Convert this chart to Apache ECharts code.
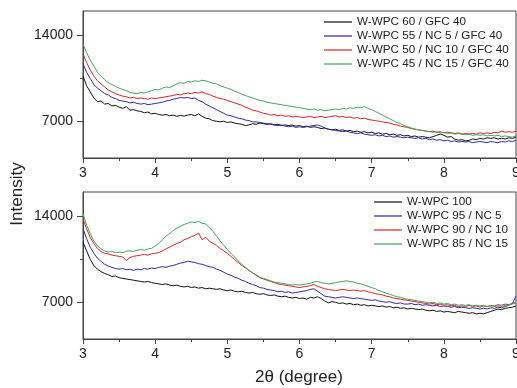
<!DOCTYPE html>
<html>
<head>
<meta charset="utf-8">
<script src="https://cdn.jsdelivr.net/npm/echarts@6/dist/echarts.min.js"></script>
<style>
html,body{margin:0;padding:0;background:#fff;}
#c{width:517px;height:388px;}
</style>
</head>
<body>
<div id="c"></div>
<script>
// 2-theta sampling positions (degree)
const xs = [3.00,3.05,3.10,3.15,3.20,3.25,3.30,3.35,3.40,3.45,
3.50,3.55,3.60,3.65,3.70,3.75,3.80,3.85,3.90,3.95,
4.00,4.05,4.10,4.15,4.20,4.25,4.30,4.35,4.40,4.45,
4.50,4.55,4.60,4.65,4.70,4.75,4.80,4.85,4.90,4.95,
5.00,5.05,5.10,5.15,5.20,5.25,5.30,5.35,5.40,5.45,
5.50,5.55,5.60,5.65,5.70,5.75,5.80,5.85,5.90,5.95,
6.00,6.05,6.10,6.15,6.20,6.25,6.30,6.35,6.40,6.45,
6.50,6.55,6.60,6.65,6.70,6.75,6.80,6.85,6.90,6.95,
7.00,7.05,7.10,7.15,7.20,7.25,7.30,7.35,7.40,7.45,
7.50,7.55,7.60,7.65,7.70,7.75,7.80,7.85,7.90,7.95,
8.00,8.05,8.10,8.15,8.20,8.25,8.30,8.35,8.40,8.45,
8.50,8.55,8.60,8.65,8.70,8.75,8.80,8.85,8.90,8.95,
9.00];

// Top panel
const topNames = ['W-WPC 60 / GFC 40','W-WPC 55 / NC 5 / GFC 40','W-WPC 50 / NC 10 / GFC 40','W-WPC 45 / NC 15 / GFC 40'];
const topBlack = [10700,9900,9400,8900,8600,8650,8400,8450,8250,8300,
8150,8050,8200,7900,7950,7850,7800,7700,7750,7600,
7650,7550,7500,7550,7450,7500,7400,7480,7420,7500,
7550,7450,7600,7400,7250,7200,7050,7000,6950,7000,
6900,6950,6850,6800,6750,6650,6700,6800,6750,6850,
6800,6750,6800,6700,6750,6650,6700,6650,6700,6600,
6650,6550,6600,6500,6550,6500,6400,6450,6350,6300,
6350,6250,6300,6200,6250,6150,6200,6100,6150,6050,
6100,6000,6050,5950,6000,5900,5950,5850,5900,5800,
5850,5750,5800,5700,5750,5700,5650,5750,5850,5950,
5850,5700,5750,5550,5450,5500,5400,5450,5550,5500,
5600,5550,5650,5600,5650,5550,5600,5550,5650,5600,
5700];
const topBlue = [11700,11000,10500,10000,9700,9500,9250,9150,8950,8850,
8700,8650,8600,8500,8550,8450,8400,8450,8350,8400,
8450,8500,8550,8650,8700,8800,8850,8950,8900,8950,
8850,8900,8700,8600,8400,8250,8100,7950,7800,7650,
7500,7450,7350,7250,7200,7100,7050,6950,6950,6900,
6850,6800,6750,6700,6650,6700,6600,6550,6600,6500,
6550,6500,6550,6600,6650,6700,6600,6450,6350,6300,
6250,6200,6150,6200,6100,6050,6000,6050,5950,5900,
5850,5900,5800,5850,5750,5800,5700,5750,5700,5650,
5700,5650,5600,5650,5550,5600,5500,5550,5450,5500,
5400,5450,5350,5400,5300,5350,5300,5350,5250,5300,
5350,5300,5250,5350,5300,5250,5350,5300,5400,5350,
5450];
const topRed = [12500,11800,11200,10700,10300,10050,9800,9550,9400,9250,
9150,9050,9000,8900,8950,8850,8900,8850,8800,8900,
8850,8900,8950,9000,9050,9100,9200,9150,9250,9300,
9250,9350,9300,9400,9250,9200,9050,8950,8850,8800,
8700,8600,8500,8400,8300,8150,8050,7900,7850,7750,
7650,7600,7500,7550,7450,7500,7400,7450,7350,7400,
7350,7300,7350,7400,7300,7350,7400,7300,7350,7400,
7450,7350,7400,7300,7350,7250,7300,7200,7250,7150,
7100,7050,7000,6950,6900,6850,6750,6700,6600,6550,
6500,6400,6350,6300,6250,6200,6150,6200,6100,6150,
6050,6100,6050,6000,6050,5950,6000,5950,6000,5950,
6050,6000,6050,6000,6100,6050,6200,6100,6150,6100,
6200];
const topGreen = [13300,12600,12000,11500,11000,10700,10400,10150,10000,9850,
9700,9600,9500,9350,9300,9250,9350,9300,9400,9500,
9600,9550,9700,9800,9750,9900,10050,10150,10100,10250,
10200,10300,10250,10350,10300,10200,10100,10050,9900,9800,
9700,9600,9450,9350,9200,9100,9000,8900,8800,8700,
8650,8550,8500,8450,8400,8350,8300,8250,8200,8150,
8100,8050,8000,7950,8000,7900,7950,7850,7900,7950,
8000,7950,8050,8000,8100,8050,8150,8100,8200,8050,
7950,7800,7650,7500,7350,7200,7050,6900,6800,6650,
6550,6450,6350,6300,6250,6200,6150,6100,6150,6050,
6100,6000,6050,5950,6000,5950,5900,5950,5850,5900,
5850,5900,5800,5850,5800,5850,5750,5800,5750,5700,
5800];

// Bottom panel
const botNames = ['W-WPC 100','W-WPC 95 / NC 5','W-WPC 90 / NC 10','W-WPC 85 / NC 15'];
const botBlack = [11900,11200,10500,10000,9700,9500,9350,9250,9100,9150,
9000,8950,8900,8850,8800,8750,8700,8650,8700,8600,
8550,8500,8450,8500,8400,8350,8400,8300,8250,8300,
8200,8250,8150,8200,8100,8150,8100,8050,8100,8000,
7950,8000,7900,7850,7900,7800,7750,7800,7700,7650,
7700,7600,7550,7600,7500,7450,7500,7400,7350,7400,
7300,7350,7250,7400,7350,7450,7300,7100,6950,7050,
7000,6900,6950,6850,6900,6800,6850,6750,6800,6700,
6750,6700,6650,6700,6600,6650,6550,6600,6500,6550,
6450,6500,6450,6400,6450,6350,6300,6350,6250,6300,
6200,6250,6200,6150,6250,6200,6150,6100,6150,6050,
6100,6050,6150,6250,6350,6450,6400,6500,6550,6600,
6700];
const botBlue = [13000,12200,11500,11000,10600,10350,10100,9950,9850,9750,
9700,9750,9650,9700,9600,9700,9650,9750,9700,9800,
9750,9850,9900,9850,9950,10000,10100,10200,10250,10350,
10300,10250,10150,10100,10000,9900,9850,9700,9600,9450,
9300,9200,9050,8950,8800,8700,8550,8450,8350,8200,
8150,8050,8000,7950,7850,7900,7800,7850,7750,7800,
7850,7900,7950,8050,8100,7900,7700,7500,7450,7400,
7350,7400,7450,7400,7350,7300,7350,7300,7250,7200,
7150,7200,7100,7050,7000,7050,6950,6900,6950,6850,
6850,6900,6800,6850,6750,6800,6750,6700,6750,6650,
6700,6650,6600,6650,6550,6600,6550,6500,6550,6500,
6450,6500,6450,6550,6500,6600,6550,6650,6750,6900,
7500];
const botRed = [13800,13000,12300,11800,11400,11150,11000,10950,10850,10800,
10750,10700,10400,10650,10750,10800,10850,10900,10850,10950,
11000,11050,11200,11350,11500,11650,11800,11900,12100,12200,
12350,12450,12650,12100,12300,12000,11800,11650,11400,11200,
11000,10750,10500,10250,10000,9800,9600,9400,9200,9000,
8900,8800,8700,8600,8500,8450,8400,8350,8300,8250,
8200,8250,8300,8350,8450,8300,8200,8100,8050,8000,
7950,8000,8050,8000,7950,8000,7950,7900,7950,7850,
7800,7700,7650,7600,7500,7450,7350,7300,7250,7200,
7150,7100,7050,7000,6950,6900,6850,6900,6800,6850,
6750,6800,6700,6750,6650,6700,6650,6750,6650,6700,
6600,6700,6650,6750,6700,6800,6750,6850,6800,6900,
7000];
const botGreen = [14200,13300,12600,12000,11600,11350,11200,11100,11150,11050,
11100,11050,11150,11200,11150,11250,11300,11250,11350,11400,
11600,11800,12100,12400,12600,12850,13050,13200,13350,13450,
13550,13500,13600,13450,13400,13100,12800,12400,12000,11650,
11300,11000,10700,10400,10100,9850,9600,9400,9250,9050,
8950,8850,8750,8650,8600,8550,8500,8450,8400,8450,
8400,8450,8500,8550,8650,8700,8600,8550,8500,8550,
8600,8650,8700,8750,8700,8650,8550,8500,8400,8300,
8200,8100,7950,7850,7750,7650,7550,7450,7400,7300,
7250,7200,7150,7100,7050,7000,6950,7000,6900,6950,
6850,6900,6800,6850,6750,6800,6750,6800,6700,6750,
6700,6750,6650,6700,6650,6700,6650,6750,6800,6850,
6950];

const yTickValues = [7000, 14000];
const yMinorValues = [10500];
const xTickLabels = [3,4,5,6,7,8,9];

const colors = ['#111111','#2a2aa6','#dd2222','#3fa65a'];
const FONT = 'Liberation Sans, Arial, Helvetica, sans-serif';
const AX = '#444444';

function pairs(vals){ return vals.map((v,i)=>[xs[i], v]); }

function xAxisCfg(gi){
  return {
    type:'value', gridIndex:gi, min:3, max:9, interval:1,
    axisLine:{show:true, lineStyle:{color:AX, width:1}},
    axisTick:{show:true, inside:false, length:5, lineStyle:{color:AX}},
    minorTick:{show:true, splitNumber:2, length:3, lineStyle:{color:AX}},
    splitLine:{show:false},
    axisLabel:{show:true, margin:8, fontSize:14, color:'#222', fontFamily:FONT,
      formatter:(v)=> xTickLabels.indexOf(v)>=0 ? String(v) : ''}
  };
}
function yMainCfg(gi){
  return {
    type:'value', gridIndex:gi, min:4000, max:16000,
    axisLine:{show:true, lineStyle:{color:AX, width:1}},
    axisTick:{show:true, inside:false, length:6, customValues:yTickValues, lineStyle:{color:AX}},
    splitLine:{show:false},
    axisLabel:{show:true, margin:10, fontSize:14, color:'#222', fontFamily:FONT, customValues:yTickValues,
      formatter:(v)=> String(Math.round(v))}
  };
}
function yMinorCfg(gi){
  return {
    type:'value', gridIndex:gi, min:4000, max:16000, position:'left',
    axisLine:{show:false},
    axisTick:{show:true, inside:false, length:3, customValues:yMinorValues, lineStyle:{color:AX}},
    splitLine:{show:false},
    axisLabel:{show:false}
  };
}
function lineSeries(name, vals, ci, xi, yi){
  return {
    name:name, type:'line', data:pairs(vals), xAxisIndex:xi, yAxisIndex:yi,
    symbol:'none', showSymbol:false, smooth:false,
    lineStyle:{width:1, color:colors[ci]}, itemStyle:{color:colors[ci]},
    emphasis:{disabled:true}, animation:false
  };
}
function legendCfg(names, left, top){
  return {
    data:names.map(n=>({name:n, icon:'rect'})), orient:'vertical', left:left, top:top,
    itemWidth:28, itemHeight:1.2, itemGap:0, padding:0, selectedMode:false,
    textStyle:{fontSize:11.7, lineHeight:14, height:14, color:'#222', fontFamily:FONT}
  };
}

const chart = echarts.init(document.getElementById('c'), null, {renderer:'canvas'});
chart.setOption({
  animation:false,
  backgroundColor:'#ffffff',
  textStyle:{fontFamily:FONT},
  grid:[
    {left:83, right:1, top:11, height:147, show:true, borderColor:AX, borderWidth:1, backgroundColor:'transparent', containLabel:false, outerBoundsMode:'none'},
    {left:83, right:1, top:192, height:147, show:true, borderColor:AX, borderWidth:1, backgroundColor:'transparent', containLabel:false, outerBoundsMode:'none'}
  ],
  xAxis:[xAxisCfg(0), xAxisCfg(1)],
  yAxis:[yMainCfg(0), yMinorCfg(0), yMainCfg(1), yMinorCfg(1)],
  legend:[ legendCfg(topNames, 324, 15), legendCfg(botNames, 374, 195) ],
  graphic:[
    {type:'text', left:9, top:'middle', rotation:Math.PI/2, x:0, y:0,
      style:{text:'Intensity', fontSize:17, fill:'#222', fontFamily:FONT}},
    {type:'text', x:299, y:377,
      style:{text:'2θ (degree)', fontSize:17, fill:'#222', fontFamily:FONT, align:'center', verticalAlign:'middle'}}
  ],
  series:[
    lineSeries(topNames[0], topBlack, 0, 0, 0),
    lineSeries(topNames[1], topBlue, 1, 0, 0),
    lineSeries(topNames[2], topRed, 2, 0, 0),
    lineSeries(topNames[3], topGreen, 3, 0, 0),
    lineSeries(botNames[0], botBlack, 0, 1, 2),
    lineSeries(botNames[1], botBlue, 1, 1, 2),
    lineSeries(botNames[2], botRed, 2, 1, 2),
    lineSeries(botNames[3], botGreen, 3, 1, 2)
  ]
});
</script>
</body>
</html>
